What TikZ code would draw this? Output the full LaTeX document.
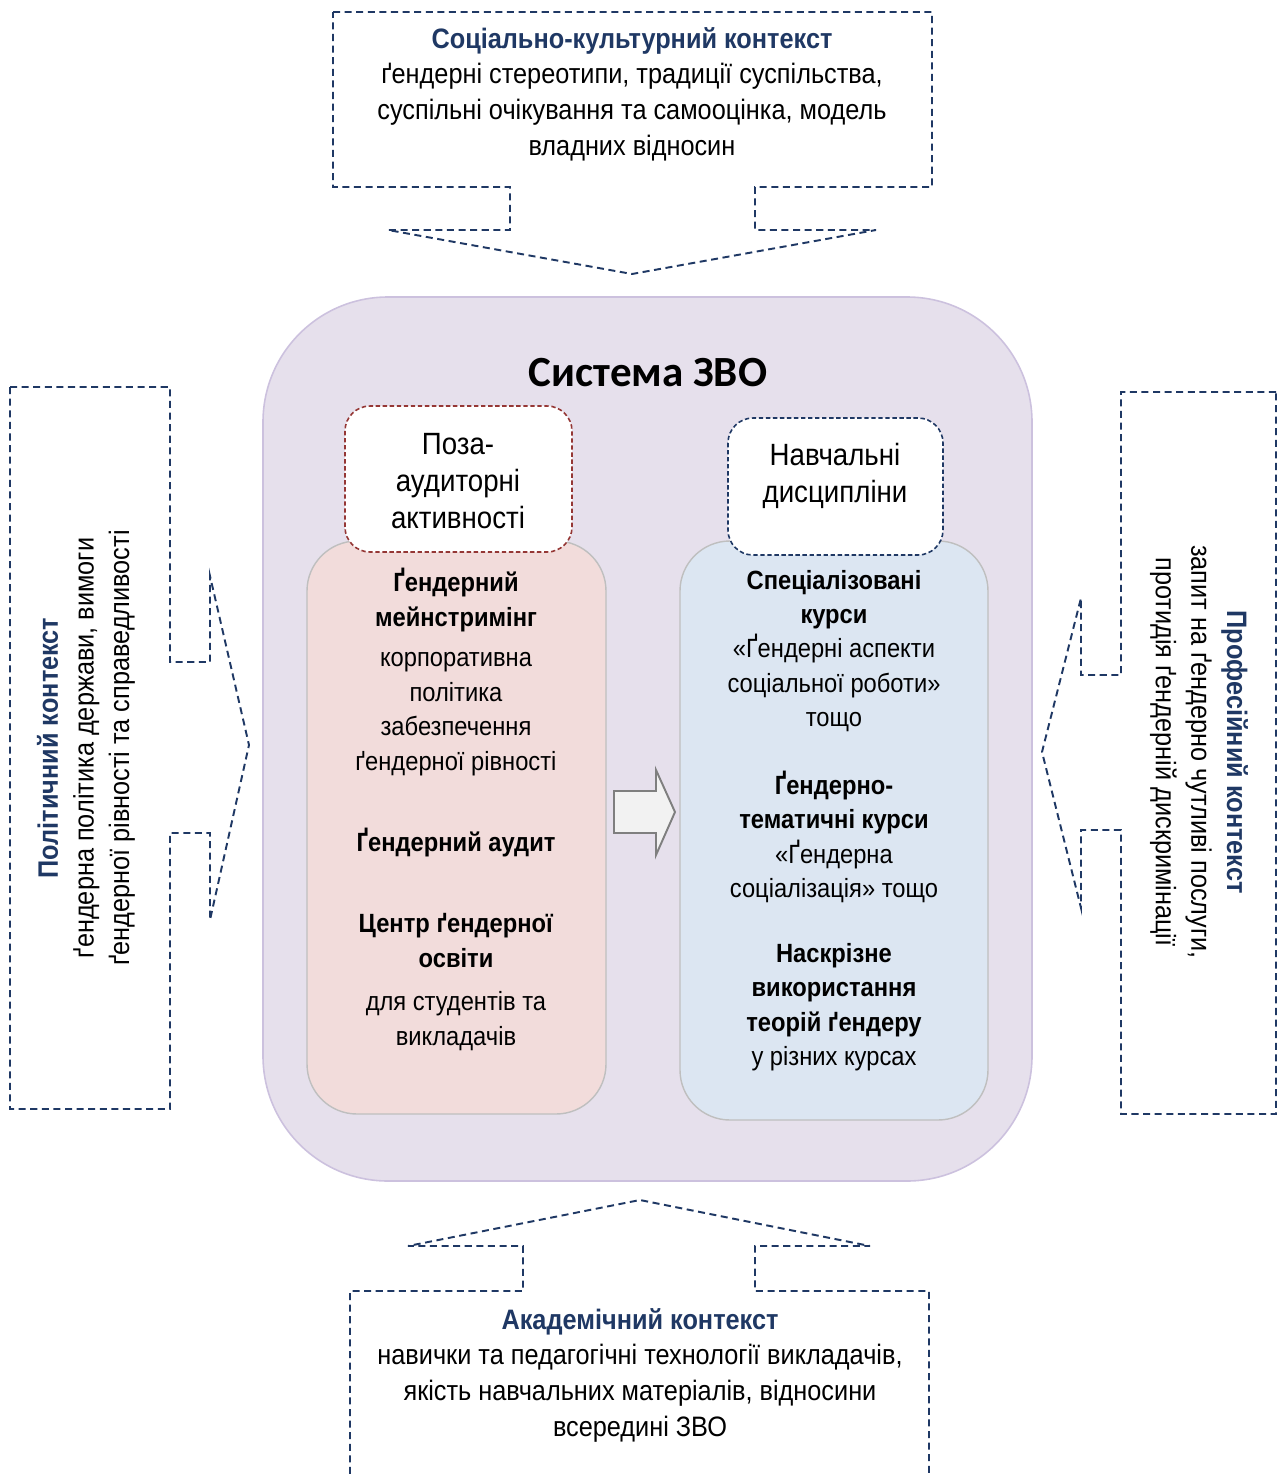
\documentclass[tikz,border=0pt]{standalone}
\usepackage{fontspec}
\setmainfont{Liberation Sans}[FakeStretch=0.9]
\newfontfamily\titlefont{Carlito}
\usetikzlibrary{positioning}
\definecolor{ctxnavy}{RGB}{31,56,100}
\definecolor{sysfill}{RGB}{230,224,236}
\definecolor{sysline}{RGB}{204,193,222}
\definecolor{extrafill}{RGB}{242,220,219}
\definecolor{studyfill}{RGB}{220,230,242}
\definecolor{boxgray}{RGB}{191,191,191}
\definecolor{extrared}{RGB}{149,55,53}
\definecolor{arrgray}{RGB}{127,127,127}
\definecolor{arrfill}{RGB}{242,242,242}
\newcommand{\ctxhead}[1]{\textbf{\textcolor{ctxnavy}{#1}}}

\begin{document}
\begin{tikzpicture}[x=0.02cm, y=-0.02cm,
    ctxline/.style={draw=ctxnavy, line width=1.1pt, dash pattern=on 4pt off 2.6pt},
    ctxtext/.style={align=center, inner sep=0pt, font=\fontsize{16}{20.3}\selectfont},
    innertext/.style={align=center, inner sep=0pt, font=\fontsize{15}{19.6}\selectfont},
    innerbox/.style={draw=boxgray, line width=0.8pt, rounded corners=1cm},
    headbox/.style={line width=0.9pt, dash pattern=on 2.5pt off 1.5pt, fill=white, rounded corners=0.5cm},
    headtext/.style={align=center, inner sep=0pt, font=\fontsize{17.5}{21}\selectfont}]
  \useasboundingbox (0,0) rectangle (1277,1474);

  % context callouts
  \draw[ctxline] (333,12) -- (932,12) -- (932,187) -- (755,187) -- (755,230) -- (876,230)
    -- (632,274) -- (388,230) -- (510,230) -- (510,187) -- (333,187) -- cycle;
  \draw[ctxline] (10,387) -- (170,387) -- (170,662) -- (210,662) -- (210,576) -- (249,745)
    -- (210,920) -- (210,833) -- (170,833) -- (170,1109) -- (10,1109) -- cycle;
  \draw[ctxline] (1276,392) -- (1121,392) -- (1121,675) -- (1081,675) -- (1081,598) -- (1042,752)
    -- (1081,908) -- (1081,830) -- (1121,830) -- (1121,1114) -- (1276,1114) -- cycle;
  \draw[ctxline] (350,1474) -- (350,1291) -- (523,1291) -- (523,1246) -- (408,1246) -- (640,1200)
    -- (870,1246) -- (755,1246) -- (755,1291) -- (929,1291) -- (929,1474);

  \node[ctxtext] (social) at (632,94)
    {\ctxhead{Соціально-культурний контекст}\\ ґендерні стереотипи, традиції суспільства,\\
     суспільні очікування та самооцінка, модель\\ владних відносин};
  \node[ctxtext, rotate=90] (politic) at (86,748)
    {\ctxhead{Політичний контекст}\\ ґендерна політика держави, вимоги\\
     ґендерної рівності та справедливості};
  \node[ctxtext, rotate=-90] (prof) at (1199,752)
    {\ctxhead{Професійний контекст}\\ запит на ґендерно чутливі послуги,\\
     протидія ґендерній дискримінації};
  \node[ctxtext] (academ) at (640,1375)
    {\ctxhead{Академічний контекст}\\ навички та педагогічні технології викладачів,\\
     якість навчальних матеріалів, відносини\\ всередині ЗВО};

  % system of the university
  \draw[draw=sysline, line width=0.9pt, fill=sysfill, rounded corners=2.5cm] (263,297) rectangle (1032,1181);
  \node[font=\titlefont\bfseries\fontsize{24.5}{29}\selectfont, inner sep=0pt] (system) at (648,373) {Система ЗВО};

  \draw[innerbox, fill=extrafill] (307,541) rectangle (606,1114);
  \draw[innerbox, fill=studyfill] (680,541) rectangle (988,1120);
  \draw[headbox, draw=extrared] (345,406) rectangle (572,552);
  \draw[headbox, draw=ctxnavy] (728,418) rectangle (943,555);
  \node[headtext] (extrahead) at (458,481) {Поза-\\ аудиторні\\ активності};
  \node[headtext] (studyhead) at (835,476) {Навчальні\\ дисципліни};

  % block arrow between the columns
  \draw[draw=arrgray, line width=1.1pt, fill=arrfill] (614,791) -- (656,791) -- (656,770) -- (675,812)
    -- (656,855) -- (656,833) -- (614,833) -- cycle;

  % extracurricular column
  \node[innertext] (mainstream) at (456,672)
    {\textbf{Ґендерний}\\ \textbf{мейнстримінг}\\[3.5pt] корпоративна\\ політика\\ забезпечення\\ ґендерної рівності};
  \node[innertext] (audit) at (456,843) {\textbf{Ґендерний аудит}};
  \node[innertext] (centre) at (456,982)
    {\textbf{Центр ґендерної}\\ \textbf{освіти}\\[5pt] для студентів та\\ викладачів};

  % disciplines column
  \node[innertext] (special) at (834,651)
    {\textbf{Спеціалізовані}\\ \textbf{курси}\\ «Ґендерні аспекти\\ соціальної роботи»\\ тощо};
  \node[innertext] (thematic) at (834,837)
    {\textbf{Ґендерно-}\\ \textbf{тематичні курси}\\ «Ґендерна\\ соціалізація» тощо};
  \node[innertext] (through) at (834,1007)
    {\textbf{Наскрізне}\\ \textbf{використання}\\ \textbf{теорій ґендеру}\\ у різних курсах};
\end{tikzpicture}
\end{document}
